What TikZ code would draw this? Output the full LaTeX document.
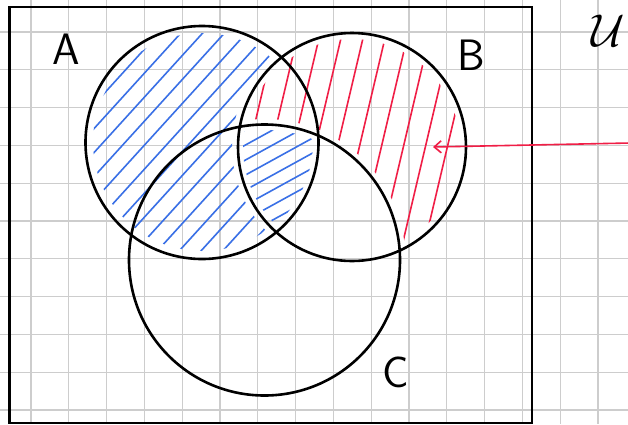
\documentclass[tikz,border=0pt]{standalone}
\usetikzlibrary{arrows.meta}
\definecolor{gridc}{RGB}{205,205,205}
\definecolor{hblue}{RGB}{58,112,230}
\definecolor{hred}{RGB}{240,30,70}
\begin{document}
\begin{tikzpicture}[x=1pt,y=-1pt,
  gridline/.style={gridc, line width=1.3pt},
  setcircle/.style={circle, draw=black, line width=2.6pt, inner sep=0pt, outer sep=0pt},
  frame/.style={draw=black, line width=2.8pt},
  bluehatch/.style={hblue, line width=1.6pt, line cap=round},
  redhatch/.style={hred, line width=1.6pt, line cap=round},
  setlabel/.style={font=\sffamily\fontsize{44}{44}\selectfont, inner sep=0pt}]
\useasboundingbox (0,0) rectangle (628,424);
\fill[white] (0,0) rectangle (628,424);
% grid paper
\foreach \k in {0,...,15} \draw[gridline] ({31+37.8*\k},0) -- ({31+37.8*\k},424);
\foreach \k in {0,...,10} \draw[gridline] (0,{32+37.8*\k}) -- (628,{32+37.8*\k});
% blue hatching: A minus B
\begin{scope}
  \clip (202,142) circle (109pt);
  \begin{scope}[even odd rule]
    \clip (-10,-10) rectangle (640,440) (352,147) circle (120pt);
    \foreach \c in {160,184,...,560} \draw[bluehatch] (0,\c) -- (400,{\c-440});
  \end{scope}
\end{scope}
% blue hatching: A and B and C (denser, flatter strokes)
\begin{scope}
  \clip (202,142) circle (111pt);
  \clip (264.5,260) circle (130pt);
  \clip (352,147) circle (109pt);
  \foreach \c in {220,235,...,420} \draw[bluehatch] (0,\c) -- (400,{\c-220});
\end{scope}
% red hatching: B minus C
\begin{scope}
  \clip (352,147) circle (108pt);
  \begin{scope}[even odd rule]
    \clip (-10,-10) rectangle (640,440) (264.5,260) circle (141pt);
    \foreach \c in {240,262,...,520} \draw[redhatch] (\c,0) -- ({\c-100},424);
  \end{scope}
\end{scope}
% universe frame
\node[frame, minimum width=522.5pt, minimum height=416pt, inner sep=0pt] (U) at (270.75,215) {};
% sets
\node[setcircle, minimum size=233pt] (A) at (202,142.5) {};
\node[setcircle, minimum size=228pt] (B) at (352,147) {};
\node[setcircle, minimum size=271pt] (C) at (264.5,260) {};
% labels
\node[setlabel] (labA) at (66,49) {A};
\node[setlabel] (labB) at (471,55) {B};
\node[setlabel] (labC) at (396,372) {C};
\node[inner sep=0pt, scale=4.6] (labU) at (608,31) {$\mathcal{U}$};
% arrow
\coordinate (arrS) at (630,143);
\coordinate (arrE) at (433,147);
\draw[hred, line width=1.6pt, -{Straight Barb[length=7pt,width=12pt]}] (arrS) -- (arrE);
\end{tikzpicture}
\end{document}
